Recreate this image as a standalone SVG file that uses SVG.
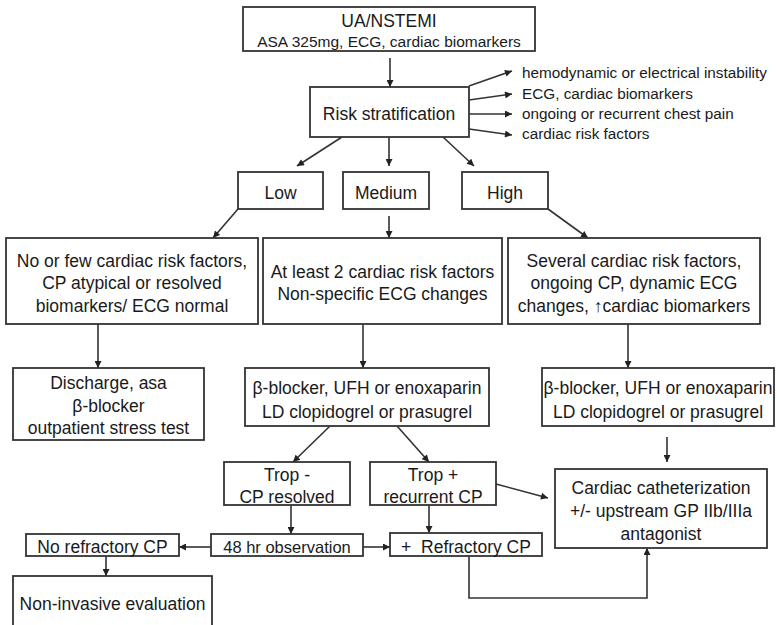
<svg xmlns="http://www.w3.org/2000/svg" width="777" height="625" viewBox="0 0 777 625">
<defs>
<marker id="ah" viewBox="0 0 10 10" refX="10" refY="5" markerWidth="8" markerHeight="7" markerUnits="userSpaceOnUse" orient="auto">
<path d="M0,0 L10,5 L0,10 z" fill="#222"/>
</marker>
<style>
rect{fill:#fff;stroke:#333;stroke-width:1.8}
text{font-family:"Liberation Sans",Arial,Helvetica,sans-serif;font-size:17.5px;fill:#1a1a1a;text-anchor:middle}
.s{font-size:15.3px;text-anchor:start}
.m{font-size:15.5px}
#connectors line,#connectors path{stroke:#333;stroke-width:1.6;fill:none;marker-end:url(#ah)}
#connectors .nm{marker-end:none}
</style>
</defs>
<rect x="0" y="0" width="777" height="625" style="fill:#fff;stroke:none"/>
<g id="connectors">
<line x1="390" y1="58" x2="390" y2="87"/>
<line x1="469" y1="86" x2="512" y2="71"/>
<line x1="469" y1="100" x2="512" y2="94"/>
<line x1="469" y1="114" x2="512" y2="114"/>
<line x1="469" y1="129" x2="512" y2="135"/>
<line x1="342" y1="137" x2="297" y2="166"/>
<line x1="389" y1="137" x2="389" y2="166"/>
<line x1="443" y1="137" x2="474" y2="166"/>
<line x1="238" y1="209" x2="213" y2="238"/>
<line x1="389" y1="216" x2="389" y2="238"/>
<line x1="548" y1="209" x2="588" y2="238"/>
<line x1="98" y1="324" x2="98" y2="368"/>
<line x1="363" y1="324" x2="363" y2="368"/>
<line x1="628" y1="324" x2="628" y2="368"/>
<line x1="330" y1="426" x2="293" y2="462"/>
<line x1="397" y1="426" x2="429" y2="462"/>
<line x1="667" y1="437" x2="667" y2="462"/>
<line x1="496" y1="484" x2="548" y2="498"/>
<line x1="291" y1="505" x2="291" y2="534"/>
<line x1="429" y1="505" x2="429" y2="533"/>
<line x1="211" y1="547" x2="179" y2="547"/>
<line x1="363" y1="547" x2="390" y2="547"/>
<line x1="106" y1="556" x2="106" y2="576"/>
<path d="M469,556 V598 H647 V548"/>
</g>
<g id="n-top"><rect x="243" y="7" width="292" height="44"/><text x="389" y="27">UA/NSTEMI</text><text class="m" x="389" y="47">ASA 325mg, ECG, cardiac biomarkers</text></g>
<g id="n-risk"><rect x="310" y="87" width="159" height="50"/><text x="389" y="120">Risk stratification</text></g>
<g id="n-side"><text class="s" x="522" y="78">hemodynamic or electrical instability</text><text class="s" x="522" y="99">ECG, cardiac biomarkers</text><text class="s" x="522" y="119">ongoing or recurrent chest pain</text><text class="s" x="522" y="139">cardiac risk factors</text></g>
<g id="n-low"><rect x="238" y="172" width="85" height="37"/><text x="280.5" y="199">Low</text></g>
<g id="n-medium"><rect x="343" y="172" width="86" height="37"/><text x="386" y="199">Medium</text></g>
<g id="n-high"><rect x="462" y="172" width="86" height="37"/><text x="505" y="199">High</text></g>
<g id="n-lowdesc"><rect x="6" y="238" width="252" height="86"/><text x="132" y="267">No or few cardiac risk factors,</text><text x="132" y="289">CP atypical or resolved</text><text x="132" y="312">biomarkers/ ECG normal</text></g>
<g id="n-meddesc"><rect x="263" y="238" width="239" height="86"/><text x="382.5" y="278">At least 2 cardiac risk factors</text><text x="382.5" y="300">Non-specific ECG changes</text></g>
<g id="n-highdesc"><rect x="508" y="238" width="252" height="86"/><text x="634" y="267">Several cardiac risk factors,</text><text x="634" y="289">ongoing CP, dynamic ECG</text><text x="634" y="312">changes, ↑cardiac biomarkers</text></g>
<g id="n-discharge"><rect x="13" y="368" width="191" height="72"/><text x="108.5" y="389">Discharge, asa</text><text x="108.5" y="412">β-blocker</text><text x="108.5" y="434">outpatient stress test</text></g>
<g id="n-medtx"><rect x="245" y="368" width="244" height="58"/><text x="367" y="394">β-blocker, UFH or enoxaparin</text><text x="367" y="418">LD clopidogrel or prasugrel</text></g>
<g id="n-hightx"><rect x="542" y="368" width="232" height="58"/><text x="658" y="394">β-blocker, UFH or enoxaparin</text><text x="658" y="418">LD clopidogrel or prasugrel</text></g>
<g id="n-tropneg"><rect x="224" y="462" width="126" height="43"/><text x="287" y="481">Trop -</text><text x="287" y="503">CP resolved</text></g>
<g id="n-troppos"><rect x="370" y="462" width="126" height="43"/><text x="433" y="481">Trop +</text><text x="433" y="503">recurrent CP</text></g>
<g id="n-cath"><rect x="555" y="469" width="212" height="79"/><text x="661" y="494">Cardiac catheterization</text><text x="661" y="517">+/- upstream GP IIb/IIIa</text><text x="661" y="540">antagonist</text></g>
<g id="n-obs"><rect x="211" y="534" width="152" height="22"/><text x="287" y="553" style="font-size:16.5px">48 hr observation</text></g>
<g id="n-norefr"><rect x="26" y="534" width="153" height="22"/><text x="102.5" y="553">No refractory CP</text></g>
<g id="n-refr"><rect x="390" y="533" width="152" height="23"/><text x="466" y="553" xml:space="preserve">+  Refractory CP</text></g>
<g id="n-noninv"><rect x="13" y="576" width="199" height="60"/><text x="112.5" y="610">Non-invasive evaluation</text></g>
</svg>
